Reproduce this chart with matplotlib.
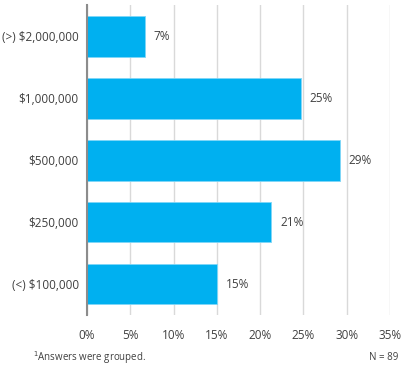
import matplotlib
matplotlib.use("Agg")
from matplotlib import pyplot as plt

# survey data (top to bottom)
categories = ["(>) $2,000,000", "$1,000,000", "$500,000", "$250,000", "(<) $100,000"]
shares = [6.7, 24.7, 29.2, 21.3, 15.0]
tick_vals = [0, 5, 10, 15, 20, 25, 30, 35]

plt.rcParams['font.family'] = ['Open Sans', 'DejaVu Sans']
text_col = "#404040"

fig = plt.figure(figsize=(4.05, 3.65), dpi=100)
ax = fig.add_axes([0.2148, 0.137, 0.748, 0.849])

ypos = list(range(len(categories)))
ax.barh(ypos, shares, height=0.66, color="#00B0F0", edgecolor="#7FD6F7", linewidth=0.6, zorder=3)

for y, v in zip(ypos, shares):
    ax.text(v + 1.0, y, f"{v:.0f}%", va="center", ha="left", fontsize=8.5, color=text_col)

ax.set_yticks(ypos)
ax.set_yticklabels(categories, fontsize=8.5, color=text_col)
ax.set_ylim(len(categories) - 0.5, -0.5)

ax.set_xlim(0, 35)
ax.set_xticks(tick_vals)
ax.set_xticklabels([f"{t}%" for t in tick_vals], fontsize=8.5, color=text_col)
ax.xaxis.grid(True, color="#D9D9D9", linewidth=1.0, zorder=0)
ax.tick_params(length=0, pad=6)
ax.tick_params(axis="x", pad=10)

for s in ["top", "right", "bottom"]:
    ax.spines[s].set_visible(False)
ax.spines["left"].set_color("#8C8C8C")
ax.spines["left"].set_linewidth(1.5)
ax.spines["left"].set_zorder(4)

fig.text(33 / 405, 1 - 358 / 365, "$^1$Answers were grouped.", fontsize=7, color=text_col, va="center")
fig.text(398 / 405, 1 - 358 / 365, "N = 89", fontsize=7, color=text_col, va="center", ha="right")

fig.savefig("out.png", dpi=100)
